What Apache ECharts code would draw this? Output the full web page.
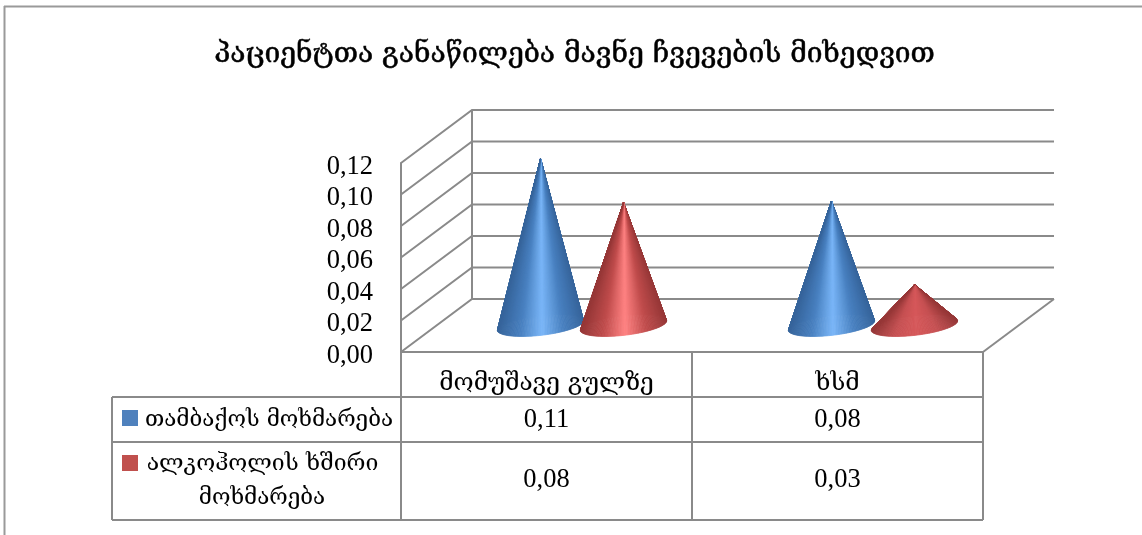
<!DOCTYPE html>
<html>
<head>
<meta charset="utf-8">
<script src="https://cdn.jsdelivr.net/npm/echarts@6/dist/echarts.min.js"></script>
<style>
  html, body { margin: 0; padding: 0; background: #fff; }
  #chart { width: 1142px; height: 535px; }
</style>
</head>
<body>
<div id="chart"></div>
<script>
// data
var titleText = 'პაციენტთა განაწილება მავნე ჩვევების მიხედვით';
var categories = ['მომუშავე გულზე', 'ხსმ'];
var tobaccoName = 'თამბაქოს მოხმარება';
var alcoholName = ['ალკოჰოლის ხშირი', 'მოხმარება'];
var tobacco = [0.106, 0.079];
var alcohol = [0.078, 0.026];
var yTicks = [0, 0.02, 0.04, 0.06, 0.08, 0.1, 0.12];

var GEO_FONT = '"DejaVu Serif", "DejaVu Sans", serif';
var NUM_FONT = '"Liberation Serif", serif';
var LINE = '#8a8a8a';
// depth of the fake 3d box
var DX = 71, DY = -53;

function fmt(v) {
  return v.toFixed(2).replace('.', ',');
}

function mix(a, b, t) {
  var r = [];
  for (var i = 0; i < 3; i++) r.push(Math.round(a[i] + (b[i] - a[i]) * t));
  return 'rgb(' + r.join(',') + ')';
}

// edge, mid, highlight colours of the cones
var shades = {
  blue: [[54, 100, 155], [72, 128, 192], [122, 182, 248]],
  red: [[150, 55, 55], [192, 76, 76], [255, 130, 130]],
  redFlat: [[150, 55, 55], [198, 80, 82], [214, 88, 90]]
};

function coneColor(pal, u) {
  // u is 0..1 across the base
  var d = Math.abs(u - 0.5) * 2;
  if (d > 0.5) return mix(pal[1], pal[0], (d - 0.5) * 2);
  return mix(pal[2], pal[1], d * 2);
}

function renderWall(params, api) {
  var cs = params.coordSys;
  var y = api.coord([0, api.value(1)])[1];
  var x0 = cs.x, x1 = cs.x + cs.width;
  var children = [{
    type: 'polyline',
    shape: { points: [[x0, y], [x0 + DX, y + DY], [x1 + DX, y + DY]] },
    style: { stroke: LINE, fill: null, lineWidth: 2 }
  }];
  if (params.dataIndex === 0) {
    children.push({
      type: 'line',
      shape: { x1: x1, y1: y, x2: x1 + DX, y2: y + DY },
      style: { stroke: LINE, lineWidth: 2 }
    });
    children.push({
      type: 'line',
      shape: { x1: x0 + DX, y1: y + DY, x2: x0 + DX, y2: cs.y + DY },
      style: { stroke: LINE, lineWidth: 2 }
    });
  }
  return { type: 'group', children: children };
}

function coneRenderer(shift, palette, flatPalette) {
  return function (params, api) {
    var idx = api.value(0), val = api.value(1);
    var band = api.size([1, 0])[0];
    var top = api.coord([idx, val]);
    var base = api.coord([idx, 0]);
    var cx = base[0] + shift * band + DX / 2;
    var cy = base[1] + DY / 2;
    var ax = cx, ay = top[1] + DY / 2;
    var a = band * 0.149, b = 9.8, tilt = -6.6 * Math.PI / 180;
    var pal = val < 0.05 ? flatPalette : palette;
    var n = 160, children = [];
    function pt(t) {
      var ex = a * Math.cos(t), ey = b * Math.sin(t);
      return [cx + ex * Math.cos(tilt) - ey * Math.sin(tilt), cy + ex * Math.sin(tilt) + ey * Math.cos(tilt)];
    }
    // back half of the base first, front half after
    for (var k = 0; k < n; k++) {
      var t0 = Math.PI + k / n * 2 * Math.PI;
      var t1 = t0 + 2 * Math.PI / n;
      var p0 = pt(t0), p1 = pt(t1);
      var c = coneColor(pal, (Math.cos((t0 + t1) / 2) + 1) / 2);
      children.push({
        type: 'polygon',
        shape: { points: [[ax, ay], p0, p1] },
        style: { fill: c, stroke: c, lineWidth: 0.8 }
      });
    }
    return { type: 'group', children: children };
  };
}

// data table below the plot
var table = [];
function tline(x1, y1, x2, y2, w, color) {
  table.push({
    type: 'line', silent: true,
    shape: { x1: x1, y1: y1, x2: x2, y2: y2 },
    style: { stroke: color || LINE, lineWidth: w || 2 }
  });
}
function ttext(x, y, s, font, size) {
  table.push({
    type: 'text', silent: true, x: x, y: y,
    style: { text: s, fontFamily: font, fontSize: size, fill: '#000', textAlign: 'center', textVerticalAlign: 'middle' }
  });
}
tline(401, 352, 983, 352);
tline(112, 397, 983, 397);
tline(112, 442, 983, 442);
tline(112, 520, 983, 520);
tline(112, 397, 112, 520);
tline(401, 352, 401, 520);
tline(692, 352, 692, 520);
tline(983, 352, 983, 520);
table.push({ type: 'rect', silent: true, shape: { x: 122, y: 410, width: 16, height: 16 }, style: { fill: '#4F81BD' } });
table.push({ type: 'rect', silent: true, shape: { x: 122, y: 455, width: 16, height: 16 }, style: { fill: '#C0504D' } });
ttext(269, 420, tobaccoName, GEO_FONT, 22.4);
ttext(262.5, 464, alcoholName[0], GEO_FONT, 23);
ttext(262, 498, alcoholName[1], GEO_FONT, 22.4);
tobacco.forEach(function (v, i) { ttext(546.5 + 291 * i, 420, fmt(v), NUM_FONT, 26.5); });
alcohol.forEach(function (v, i) { ttext(546.5 + 291 * i, 480, fmt(v), NUM_FONT, 26.5); });
// outer frame, only the top and left edges show in the crop
tline(4, 6.5, 1142, 6.5, 2, '#9a9a9a');
tline(4.5, 6, 4.5, 535, 2, '#9a9a9a');

var chart = echarts.init(document.getElementById('chart'));
chart.setOption({
  animation: false,
  backgroundColor: '#fff',
  title: {
    text: titleText,
    left: 569.5,
    top: 36,
    textAlign: 'center',
    textStyle: {
      fontFamily: GEO_FONT, fontSize: 28.2, fontWeight: 'normal', color: '#000',
      textBorderColor: '#000', textBorderWidth: 0.5
    }
  },
  grid: { left: 401, right: 159, top: 163, bottom: 183 },
  xAxis: {
    type: 'category',
    data: categories,
    axisLine: { show: false },
    axisTick: { show: false },
    axisLabel: { margin: 20, fontFamily: GEO_FONT, fontSize: 24.4, color: '#000' }
  },
  yAxis: {
    type: 'value',
    min: 0,
    max: 0.12,
    interval: 0.02,
    axisLine: { show: true, lineStyle: { color: LINE, width: 2 } },
    axisTick: { show: false },
    splitLine: { show: false },
    axisLabel: {
      margin: 28, fontFamily: NUM_FONT, fontSize: 26.5, color: '#000',
      // top aligned with a short line box, drops the text a few px under the tick
      verticalAlign: 'top', lineHeight: 8, formatter: fmt
    }
  },
  graphic: table,
  series: [
    {
      type: 'custom', name: 'wall', silent: true, clip: false,
      renderItem: renderWall,
      encode: { x: 0, y: 1 },
      data: yTicks.map(function (t) { return [0, t]; })
    },
    {
      type: 'custom', name: tobaccoName, silent: true, clip: false,
      renderItem: coneRenderer(-41.5 / 291, shades.blue, shades.blue),
      encode: { x: 0, y: 1 },
      data: tobacco.map(function (v, i) { return [i, v]; })
    },
    {
      type: 'custom', name: alcoholName.join(' '), silent: true, clip: false,
      renderItem: coneRenderer(41.5 / 291, shades.red, shades.redFlat),
      encode: { x: 0, y: 1 },
      data: alcohol.map(function (v, i) { return [i, v]; })
    }
  ]
});
</script>
</body>
</html>
